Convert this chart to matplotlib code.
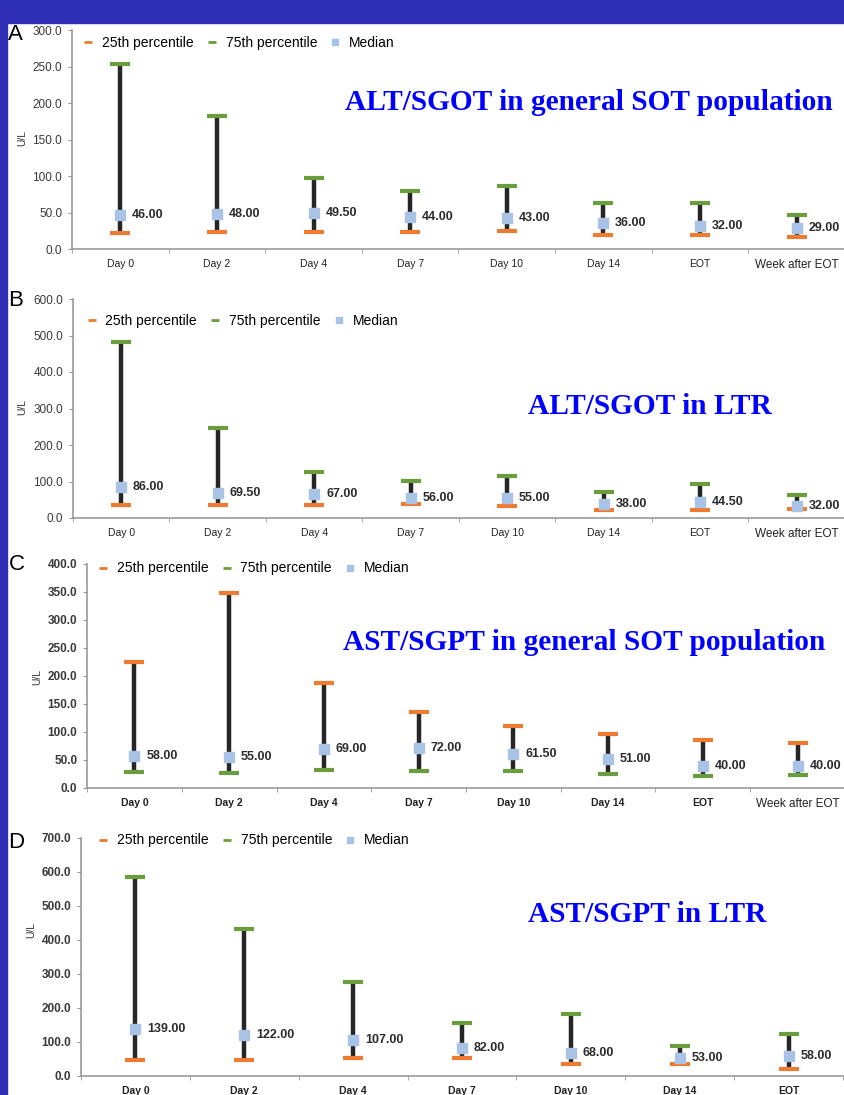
"""Liver enzyme levels (U/L) over time: 25th/75th percentile and median, four panels."""
import matplotlib
import numpy as np

matplotlib.use("Agg")
import matplotlib.pyplot as plt
from matplotlib.lines import Line2D
from matplotlib.patches import Rectangle

DAYS8 = ["Day 0", "Day 2", "Day 4", "Day 7", "Day 10", "Day 14", "EOT", "Week after EOT"]
DAYS7 = DAYS8[:7]

# panel A: ALT/SGOT, general SOT population
A_P25 = [22, 23, 23, 23, 25, 19, 19, 16]
A_P75 = [253, 182, 97, 79, 86, 63, 63, 47]
A_MED = [46, 48, 49.5, 44, 43, 36, 32, 29]

# panel B: ALT/SGOT, LTR
B_P25 = [35, 35, 35, 38, 32, 21, 23, 24]
B_P75 = [483, 247, 127, 102, 115, 70, 94, 62]
B_MED = [86, 69.5, 67, 56, 55, 38, 44.5, 32]

# panel C: AST/SGPT, general SOT population (series swapped in the original figure)
C_P25 = [225, 349, 187, 136, 111, 96, 86, 81]
C_P75 = [29, 27, 32, 31, 31, 25, 22, 23]
C_MED = [58, 55, 69, 72, 61.5, 51, 40, 40]

# panel D: AST/SGPT, LTR
D_P25 = [47, 47, 54, 54, 36, 36, 20]
D_P75 = [585, 431, 277, 155, 181, 88, 124]
D_MED = [139, 122, 107, 82, 68, 53, 58]

ORANGE = "#ee7b30"
GREEN = "#6a9e3c"
MEDIAN = "#a9c3e6"
STEM = "#262626"
BLUE_BG = "#2f2fb5"
TITLE_BLUE = "#0000ff"

W, H = 845, 1095
plt.rcParams["font.family"] = ["Liberation Sans", "DejaVu Sans"]

fig = plt.figure(figsize=(W / 100, H / 100), dpi=100)
fig.patch.set_facecolor("white")
fig.add_artist(Rectangle((0, 1 - 23 / H), 1, 23 / H, transform=fig.transFigure,
                         color=BLUE_BG, zorder=0))
fig.add_artist(Rectangle((0, 0), 7 / W, 1, transform=fig.transFigure,
                         color=BLUE_BG, zorder=0))


def px_axes(left, right, top, bottom):
    return fig.add_axes([left / W, 1 - bottom / H, (right - left) / W, (bottom - top) / H])


def draw_panel(ax, cats, p25, p75, med, ymax, ystep, legend_xy, bold_ticks):
    x = np.arange(len(cats))
    ax.vlines(x, np.minimum(p25, p75), np.maximum(p25, p75), color=STEM, lw=3.2, zorder=2)
    ax.plot(x, p25, ls="none", marker="_", ms=15, mew=3, color=ORANGE, zorder=3)
    ax.plot(x, p75, ls="none", marker="_", ms=15, mew=3, color=GREEN, zorder=3)
    ax.plot(x, med, ls="none", marker="s", ms=6.5, color=MEDIAN, mec=MEDIAN, zorder=4)
    for xi, m in zip(x, med):
        ax.annotate(f"{m:.2f}", (xi, m), xytext=(8.5, 0), textcoords="offset points",
                    va="center", ha="left", fontsize=9, fontweight="bold", color="#2b2b2b")

    ax.set_xlim(-0.5, len(cats) - 0.5)
    ax.set_ylim(0, ymax)
    ax.set_yticks(np.arange(0, ymax + 1, ystep))
    ax.set_yticklabels([f"{v:.1f}" for v in np.arange(0, ymax + 1, ystep)],
                       fontsize=8.5, color="#3a3a3a",
                       fontweight="bold" if bold_ticks else "normal")
    ax.set_xticks(x)
    ax.set_xticklabels(cats, fontsize=7.5, color="#222222",
                       fontweight="bold" if bold_ticks else "normal")
    for lab in ax.get_xticklabels():
        if lab.get_text() == "Week after EOT":
            lab.set_fontsize(8.5)
            lab.set_fontweight("normal")
    ax.set_xticks(np.arange(-0.5, len(cats)), minor=True)
    ax.tick_params(axis="x", which="major", length=0, pad=7)
    ax.tick_params(axis="x", which="minor", length=3, color="#999999")
    ax.tick_params(axis="y", length=3, color="#999999", pad=4)
    for side in ("top", "right"):
        ax.spines[side].set_visible(False)
    for side in ("left", "bottom"):
        ax.spines[side].set_color("#999999")
        ax.spines[side].set_linewidth(1.2)
    ax.patch.set_alpha(0)

    handles = [
        Line2D([], [], ls="none", marker="_", ms=6, mew=2, color=ORANGE),
        Line2D([], [], ls="none", marker="_", ms=6, mew=2, color=GREEN),
        Line2D([], [], ls="none", marker="s", ms=5, color=MEDIAN),
    ]
    ax.legend(handles, ["25th percentile", "75th percentile", "Median"], ncol=3,
              loc="center left", bbox_to_anchor=legend_xy, frameon=False,
              fontsize=10, handlelength=1.0, handletextpad=0.5, columnspacing=0.8,
              borderaxespad=0, borderpad=0)


ax_a = px_axes(72, 845, 30, 249)
draw_panel(ax_a, DAYS8, A_P25, A_P75, A_MED, 300, 50, (0.012, 0.94), False)
ax_b = px_axes(73, 845, 299, 518)
draw_panel(ax_b, DAYS8, B_P25, B_P75, B_MED, 600, 100, (0.015, 0.90), False)
ax_c = px_axes(87, 845, 564, 788)
draw_panel(ax_c, DAYS8, C_P25, C_P75, C_MED, 400, 50, (0.012, 0.98), True)
ax_d = px_axes(81, 843, 838, 1076)
draw_panel(ax_d, DAYS7, D_P25, D_P75, D_MED, 700, 100, (0.020, 0.99), True)

# panel letters, y axis labels, titles
for letter, (lx, ly) in {"A": (8, 34), "B": (8, 300), "C": (9, 565), "D": (8, 842)}.items():
    fig.text(lx / W, 1 - ly / H, letter, fontsize=16, va="center", ha="left", color="black")
for (ux, uy) in [(22, 138), (22, 407), (37, 677), (31, 930)]:
    fig.text(ux / W, 1 - uy / H, "U/L", rotation=90, fontsize=7.5, va="center", ha="center",
             color="#333333")

titles = [
    ("ALT/SGOT in general SOT population", 345, 103),
    ("ALT/SGOT in LTR", 528, 406),
    ("AST/SGPT in general SOT population", 343, 643),
    ("AST/SGPT in LTR", 528, 914),
]
for text, tx, ty in titles:
    fig.text(tx / W, 1 - ty / H, text, fontsize=21.2, fontweight="bold", color=TITLE_BLUE,
             family="Liberation Serif", va="center", ha="left")

fig.savefig("out.png", dpi=100)
